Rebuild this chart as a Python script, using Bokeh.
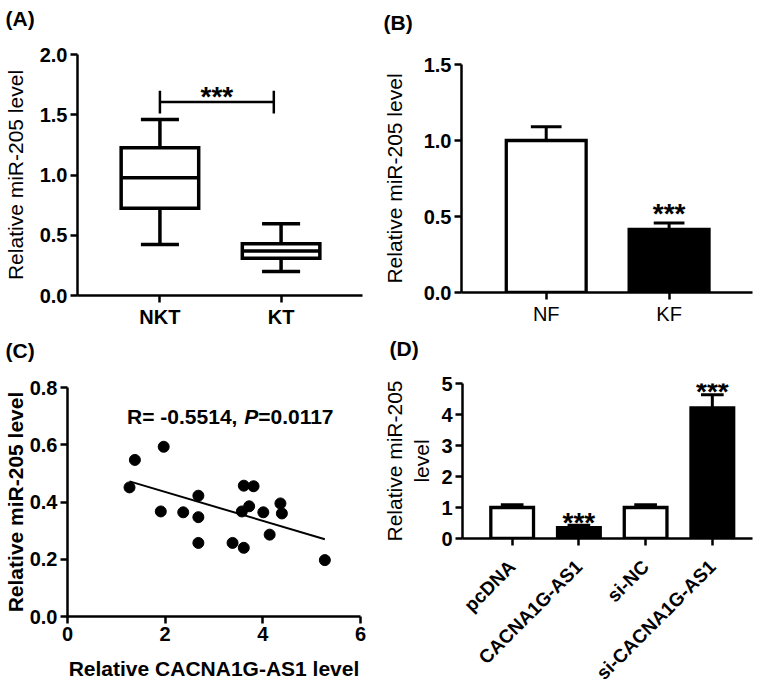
import math
from bokeh.plotting import figure
from bokeh.models import Range1d, FixedTicker, NumeralTickFormatter, Label
from bokeh.layouts import column, row
from bokeh.embed import file_html
from bokeh.resources import INLINE

FONT = "Liberation Sans"

# ---------------- data ----------------
# (A) box plot
a_groups = ["NKT", "KT"]
a_low = [0.424, 0.20]
a_q1 = [0.725, 0.31]
a_median = [0.978, 0.37]
a_q3 = [1.227, 0.43]
a_high = [1.46, 0.596]

# (B) bar chart
b_groups = ["NF", "KF"]
b_mean = [1.00, 0.415]
b_err = [0.09, 0.043]
b_sig = ["", "***"]
b_fill = ["white", "black"]

# (C) scatter
c_x = [1.27, 1.38, 1.97, 1.91, 2.37, 2.68, 2.68, 2.68, 3.38, 3.61,
       3.61, 3.81, 3.57, 3.72, 4.01, 4.14, 4.36, 4.39, 5.27]
c_y = [0.451, 0.547, 0.593, 0.367, 0.364, 0.422, 0.347, 0.257, 0.257, 0.240,
       0.457, 0.455, 0.367, 0.385, 0.364, 0.286, 0.395, 0.360, 0.197]
c_fit_x = [1.27, 5.27]
c_fit_y = [0.472, 0.270]

# (D) bar chart
d_groups = ["pcDNA", "CACNA1G-AS1", "si-NC", "si-CACNA1G-AS1"]
d_mean = [1.00, 0.354, 1.00, 4.21]
d_err = [0.09, 0.07, 0.09, 0.43]
d_sig = ["", "***", "", "***"]
d_fill = ["white", "black", "white", "black"]

LW = 2.5


class Geo:
    """pixel geometry of a plot frame, used to place annotations"""
    def __init__(self, fx0, fx1, fy0, fy1, xr, yr):
        self.fx0, self.fx1, self.fy0, self.fy1 = fx0, fx1, fy0, fy1
        self.xr, self.yr = xr, yr

    def x(self, px):
        return self.xr[0] + (px - self.fx0) * (self.xr[1] - self.xr[0]) / (self.fx1 - self.fx0)

    def y(self, py):
        return self.yr[0] + (self.fy1 - py) * (self.yr[1] - self.yr[0]) / (self.fy1 - self.fy0)


def base_fig(w, h, xr, yr, bl, br, bt, bb):
    p = figure(width=w, height=h, x_range=Range1d(*xr), y_range=Range1d(*yr),
               output_backend="svg", toolbar_location=None,
               min_border_left=bl, min_border_right=br,
               min_border_top=bt, min_border_bottom=bb)
    p.frame_align = False
    p.outline_line_color = None
    p.xgrid.visible = False
    p.ygrid.visible = False
    p.background_fill_color = "white"
    p.border_fill_color = "white"
    for ax in p.axis:
        ax.axis_line_width = LW
        ax.axis_line_color = "black"
        ax.major_tick_line_width = LW
        ax.major_tick_line_color = "black"
        ax.major_tick_out = 7
        ax.major_tick_in = 0
        ax.minor_tick_out = 0
        ax.minor_tick_in = 0
        ax.major_label_text_font = FONT
        ax.major_label_text_font_style = "bold"
        ax.major_label_text_font_size = "20px"
        ax.major_label_text_color = "black"
        ax.major_label_standoff = 3
        ax.axis_label_text_font = FONT
        ax.axis_label_text_font_style = "normal"
        ax.axis_label_text_font_size = "21px"
        ax.axis_label_text_color = "black"
    return p


def panel_label(p, text, offset, standoff):
    p.title.text = text
    p.title.align = "left"
    p.title.offset = offset
    p.title.standoff = standoff
    p.title.text_font = FONT
    p.title.text_font_style = "bold"
    p.title.text_font_size = "21px"
    p.title.text_color = "black"


def stars(p, x, y, text, off):
    p.add_layout(Label(x=x, y=y, text=text, text_font=FONT, text_font_style="bold",
                       text_font_size="28px", text_align="center",
                       text_baseline="alphabetic", y_offset=off, text_color="black"))


# ---------------- (A) ----------------
a_pos = [i + 1 for i in range(len(a_groups))]
ga = Geo(75, 362, 54, 295, (0.3197, 2.672), (0, 2.0))
pa = base_fig(379, 330, ga.xr, ga.yr, 75, 17, 54, 35)
BOXW = 0.64
CAP_A = 0.157
pa.segment(a_pos, a_q3, a_pos, a_high, line_color="black", line_width=3.5)
pa.segment(a_pos, a_q1, a_pos, a_low, line_color="black", line_width=3.5)
pa.segment([x - CAP_A for x in a_pos], a_high, [x + CAP_A for x in a_pos], a_high,
           line_color="black", line_width=3.5)
pa.segment([x - CAP_A for x in a_pos], a_low, [x + CAP_A for x in a_pos], a_low,
           line_color="black", line_width=3.5)
pa.vbar(x=a_pos, bottom=a_q1, top=a_q3, width=BOXW, fill_color="white",
        line_color="black", line_width=3.5, line_join="miter")
pa.segment([x - BOXW / 2 for x in a_pos], a_median, [x + BOXW / 2 for x in a_pos], a_median,
           line_color="black", line_width=3.5)
# significance bracket
pa.segment([1.0, 1.0, 1.94], [1.606, 1.51, 1.51], [1.94, 1.0, 1.94], [1.606, 1.70, 1.70],
           line_color="black", line_width=2.5)
stars(pa, 1.47, 1.606, "***", 5)
pa.yaxis.axis_label = "Relative miR-205 level"
pa.yaxis.axis_label_standoff = 10
pa.yaxis.ticker = FixedTicker(ticks=[0, 0.5, 1.0, 1.5, 2.0])
pa.yaxis.formatter = NumeralTickFormatter(format="0.0")
pa.xaxis.ticker = FixedTicker(ticks=a_pos)
pa.xaxis.major_label_overrides = {p: g for p, g in zip(a_pos, a_groups)}
panel_label(pa, "(A)\n", -72, 4)

# ---------------- (C) ----------------
gc = Geo(65, 360, 387, 616, (0, 6), (0, 0.8))
pc = base_fig(379, 364, gc.xr, gc.yr, 65, 19, 57, 78)
pc.line(c_fit_x, c_fit_y, line_color="black", line_width=2)
pc.scatter(c_x, c_y, size=11, fill_color="black", line_color="black")
pc.xaxis.ticker = FixedTicker(ticks=[0, 2, 4, 6])
pc.xaxis.formatter = NumeralTickFormatter(format="0")
pc.yaxis.ticker = FixedTicker(ticks=[0, 0.2, 0.4, 0.6, 0.8])
pc.yaxis.formatter = NumeralTickFormatter(format="0.0")
pc.xaxis.axis_label = "Relative CACNA1G-AS1 level"
pc.yaxis.axis_label = "Relative miR-205 level"
for ax in (pc.xaxis[0], pc.yaxis[0]):
    ax.axis_label_text_font_style = "bold"
pc.yaxis.axis_label_standoff = 0
pc.xaxis.axis_label_standoff = 13
for txt, px, st in (("R= -0.5514,", 125, "bold"), ("P", 243, "bold italic"), ("=0.0117", 257, "bold")):
    pc.add_layout(Label(x=gc.x(px), y=gc.y(416), text=txt,
                        text_font=FONT, text_font_style=st, text_font_size="21px",
                        text_align="left", text_baseline="alphabetic", text_color="black"))
panel_label(pc, "(C)\n", -62, 6)

# ---------------- (B) ----------------
b_pos = [i + 1 for i in range(len(b_groups))]
gb = Geo(460, 752, 63, 292, (0.3106, 2.6788), (0, 1.5))
pb = base_fig(377, 330, gb.xr, gb.yr, 81, 4, 63, 38)
BARW = 0.65
CAP_B = 0.125
b_top = [m + e for m, e in zip(b_mean, b_err)]
pb.segment(b_pos, b_mean, b_pos, b_top, line_color="black", line_width=3)
pb.segment([x - CAP_B for x in b_pos], b_top, [x + CAP_B for x in b_pos], b_top,
           line_color="black", line_width=3)
pb.vbar(x=b_pos, top=b_mean, bottom=0, width=BARW, fill_color=b_fill,
        line_color="black", line_width=3.3, line_join="miter")
for x, t, s in zip(b_pos, b_top, b_sig):
    if s:
        stars(pb, x, t, s, 9)
pb.yaxis.axis_label = "Relative miR-205 level"
pb.yaxis.axis_label_standoff = 15
pb.yaxis.ticker = FixedTicker(ticks=[0, 0.5, 1.0, 1.5])
pb.yaxis.formatter = NumeralTickFormatter(format="0.0")
pb.xaxis.ticker = FixedTicker(ticks=b_pos)
pb.xaxis.major_label_overrides = {p: g for p, g in zip(b_pos, b_groups)}
pb.xaxis.major_label_text_font_style = "normal"
panel_label(pb, "(B)\n", -78, 16)

# ---------------- (D) ----------------
d_pos = [i + 1 for i in range(len(d_groups))]
gd = Geo(456, 752, 383, 548, (0.2555, 4.602), (0, 5))
pd_ = base_fig(377, 364, gd.xr, gd.yr, 77, 4, 53, 146)
BARW_D = 0.64
CAP_D = 0.17
d_top = [m + e for m, e in zip(d_mean, d_err)]
pd_.segment(d_pos, d_mean, d_pos, d_top, line_color="black", line_width=3)
pd_.segment([x - CAP_D for x in d_pos], d_top, [x + CAP_D for x in d_pos], d_top,
            line_color="black", line_width=3)
pd_.vbar(x=d_pos, top=d_mean, bottom=0, width=BARW_D, fill_color=d_fill,
         line_color="black", line_width=3.3, line_join="miter")
for x, t, s in zip(d_pos, d_top, d_sig):
    if s:
        stars(pd_, x, t, s, 3)
pd_.yaxis.axis_label = "Relative miR-205\nlevel"
pd_.yaxis.axis_label_standoff = 5
pd_.yaxis.ticker = FixedTicker(ticks=[0, 1, 2, 3, 4, 5])
pd_.yaxis.formatter = NumeralTickFormatter(format="0")
pd_.xaxis.ticker = FixedTicker(ticks=d_pos)
pd_.xaxis.major_label_overrides = {p: g for p, g in zip(d_pos, d_groups)}
pd_.xaxis.major_label_orientation = math.pi / 4
pd_.xaxis.major_label_text_font_size = "19px"
pd_.xaxis.major_label_standoff = 18
panel_label(pd_, "(D)\n", -73, 2)

layout = row(column(pa, pc), column(pb, pd_))
open("out.html", "w").write(file_html(layout, INLINE))
